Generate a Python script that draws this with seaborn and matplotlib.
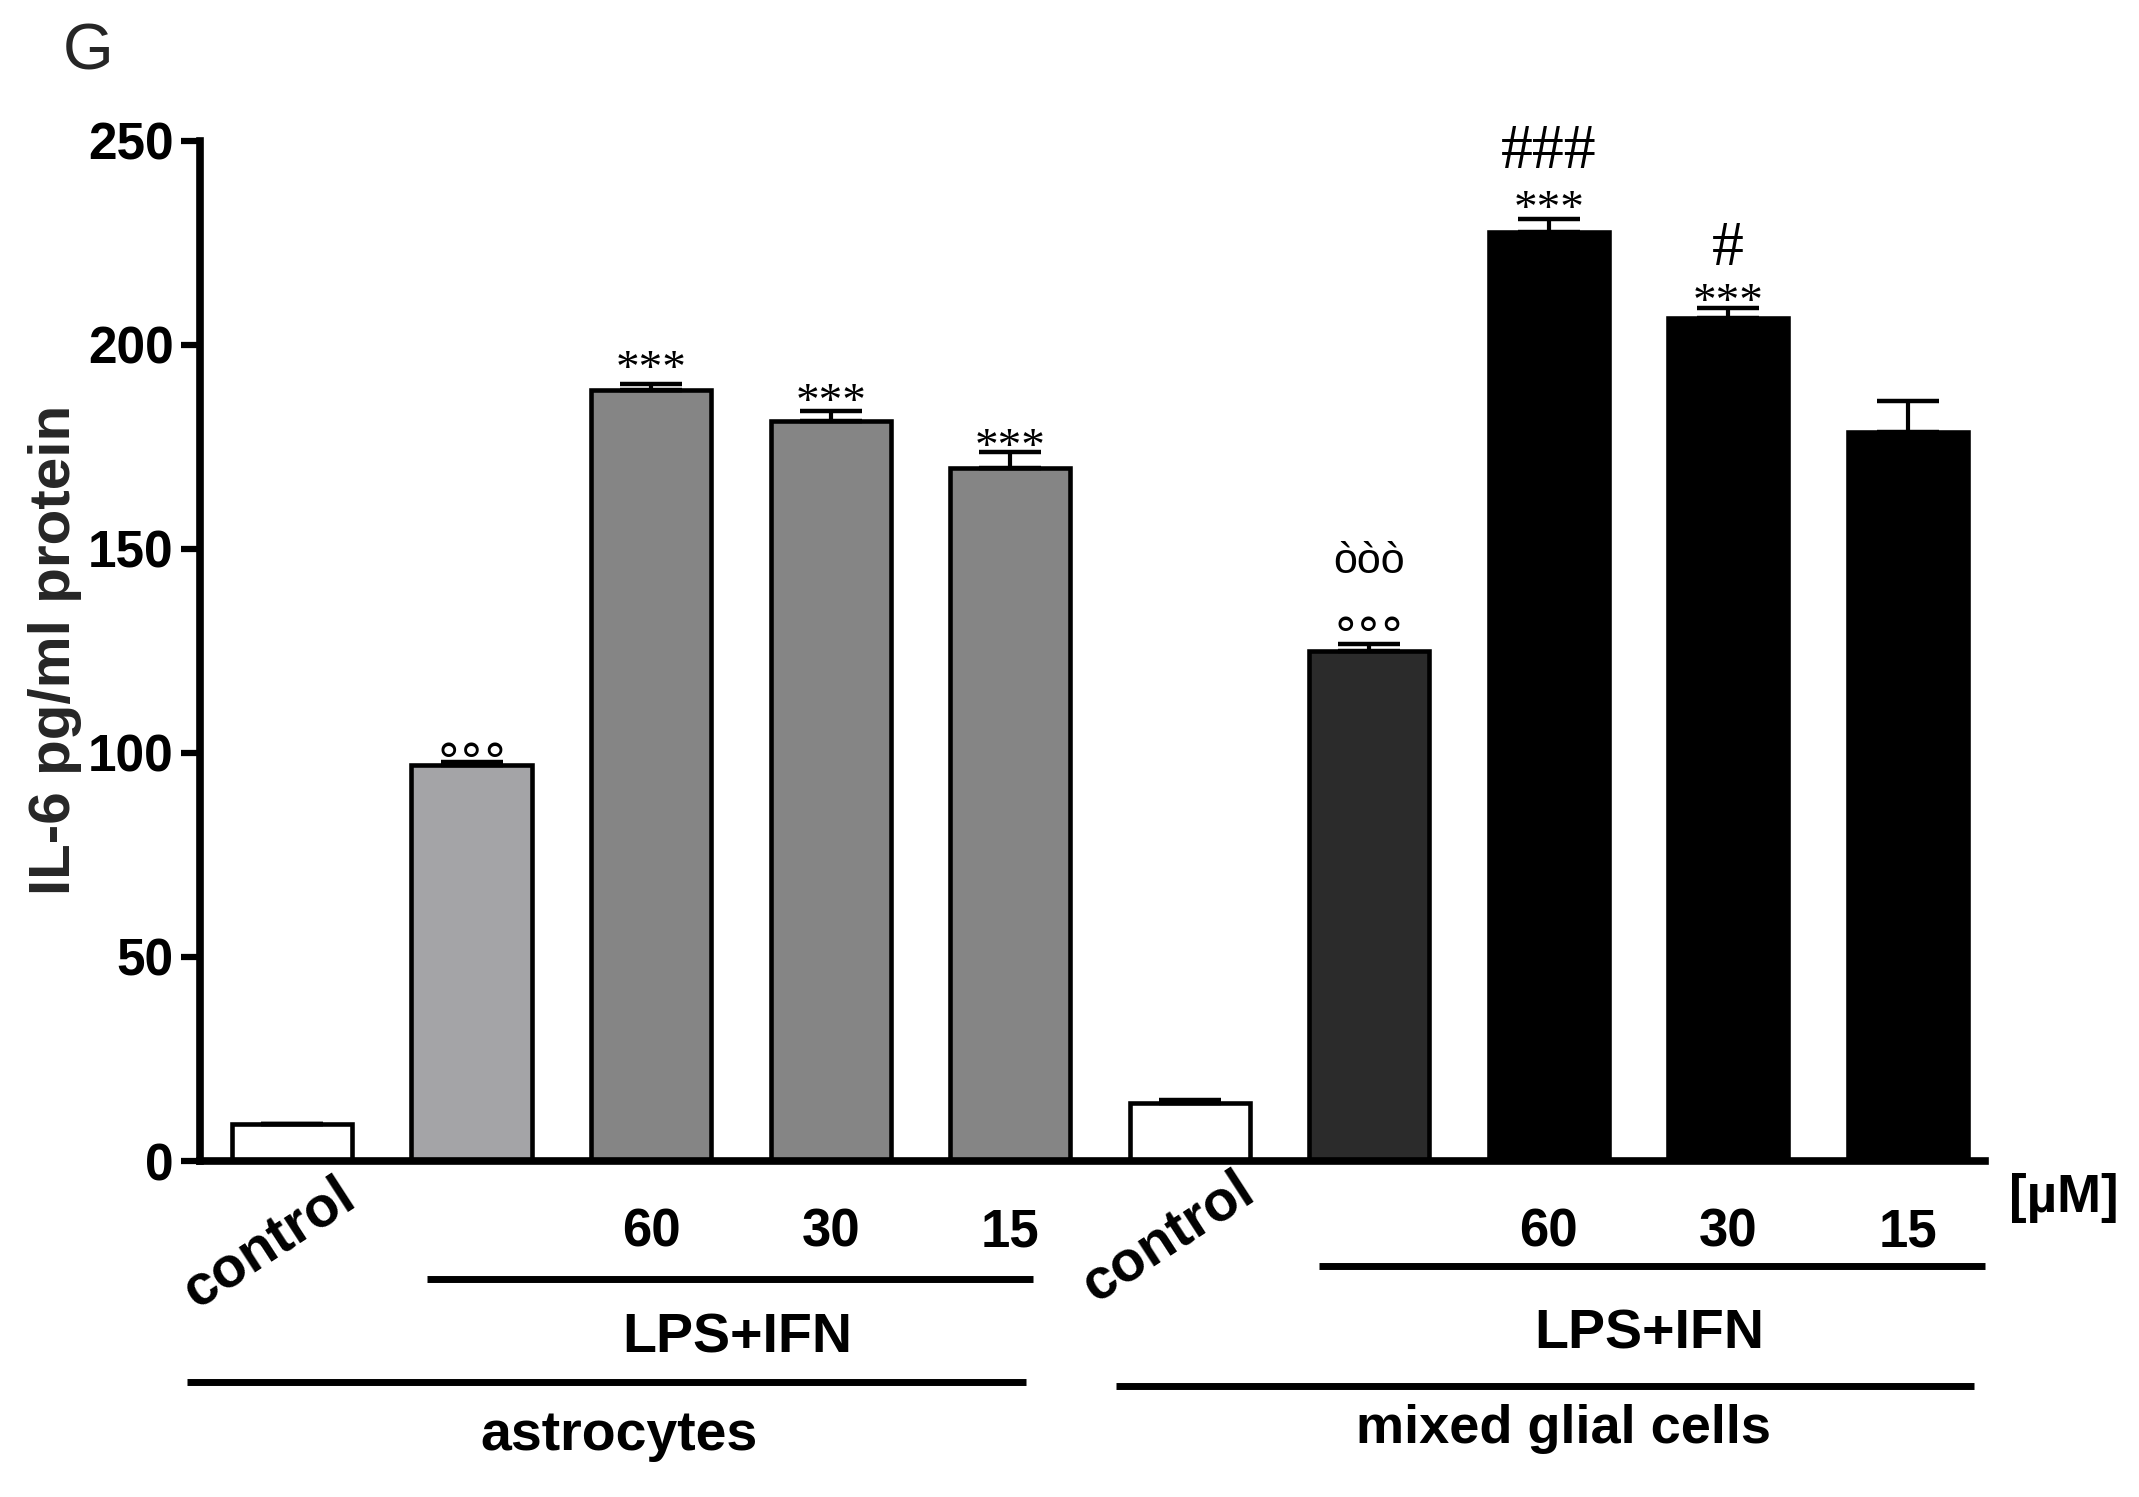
import numpy as np
import pandas as pd
import matplotlib
matplotlib.use("Agg")
import matplotlib.pyplot as plt
import matplotlib.transforms as mtransforms
from matplotlib import font_manager
import seaborn as sns

sns.set_theme(style="white")

# --- FONTS ---
installed = {f.name for f in font_manager.fontManager.ttflist}
NARROW = "Liberation Sans Narrow" if "Liberation Sans Narrow" in installed else "Liberation Sans"
SANS = "Liberation Sans"
SERIF = "Liberation Serif"
plt.rcParams["font.family"] = [SANS, "DejaVu Sans"]

# --- DATA ---
groups = ["astro_ctrl", "astro_lps", "astro_60", "astro_30", "astro_15",
          "mixed_ctrl", "mixed_lps", "mixed_60", "mixed_30", "mixed_15"]
il6 = [9.2, 97.0, 188.9, 181.2, 169.8, 14.2, 125.0, 227.6, 206.5, 178.6]
sem = [0.0, 0.8, 1.4, 2.6, 4.0, 0.7, 1.7, 3.2, 2.5, 7.6]
bar_colors = ["#FFFFFF", "#A3A4A8", "#858585", "#858585", "#858585",
              "#FFFFFF", "#2B2B2B", "#000000", "#000000", "#000000"]
dose_labels = ["", "", "60", "30", "15", "", "", "60", "30", "15"]
y_ticks = [0, 50, 100, 150, 200, 250]

# significance marks above the bars
sig_bar = [1, 2, 3, 4, 6, 6, 7, 7, 8, 8]
sig_text = ["°°°", "***", "***", "***", "°°°", "òòò", "***", "###", "***", "#"]
sig_y = [101.3, 196.7, 188.5, 177.5, 132.0, 147.8, 235.9, 247.7, 213.1, 223.9]

# font, size, vertical nudge (pt) per mark kind
mark_style = {
    "°": ("DejaVu Sans", 34, -12),
    "*": (SERIF, 34, -9),
    "#": (SERIF, 46, -2),
    "ò": (SANS, 31, -3),
}

df = pd.DataFrame({"group": groups, "il6": il6})

# --- PLOT ---
fig = plt.figure(figsize=(21.39, 14.97), dpi=100)
ax = fig.add_axes([0.0935, 0.2244, 0.8345, 0.6817])

sns.barplot(data=df, x="group", y="il6", hue="group",
            palette=dict(zip(groups, bar_colors)), legend=False,
            width=0.67, edgecolor="black", linewidth=3.3,
            errorbar=None, ax=ax)
ax.errorbar(np.arange(len(groups)), il6, yerr=[np.zeros(len(sem)), sem],
            fmt="none", ecolor="black", elinewidth=3, capsize=22, capthick=3.2,
            zorder=3)

ax.set_xlim(-0.513, 9.43)
ax.set_ylim(0, 250)
ax.set_xticks([])
ax.set_yticks(y_ticks)
ax.set_yticklabels([str(t) for t in y_ticks], fontfamily=NARROW,
                   fontweight="bold", fontsize=37)
ax.tick_params(axis="y", length=14, width=4.5, direction="out", pad=5,
               colors="black", left=True)
ax.set_xlabel("")
ax.set_ylabel("")
for side in ["top", "right"]:
    ax.spines[side].set_visible(False)
for side in ["left", "bottom"]:
    ax.spines[side].set_linewidth(5.5)
    ax.spines[side].set_color("black")

# significance marks
for b, txt, y in zip(sig_bar, sig_text, sig_y):
    fam, size, dy = mark_style[txt[0]]
    tr = mtransforms.offset_copy(ax.transData, fig=fig, x=0, y=dy, units="points")
    ax.text(b, y, txt, transform=tr, ha="center", va="center",
            fontsize=size, family=fam, color="black")

# x-axis annotation block (data x, figure y)
blend = mtransforms.blended_transform_factory(ax.transData, fig.transFigure)
lab_kw = dict(transform=blend, family=NARROW, fontweight="bold", color="black",
              ha="center", clip_on=False)

for i, lab in enumerate(dose_labels):
    if lab:
        ax.text(i, 0.1675, lab, va="baseline", fontsize=38, **lab_kw)

ax.text(-0.128, 0.1697, "control", va="center", rotation=33, fontsize=41,
        rotation_mode="anchor", **lab_kw)
ax.text(4.88, 0.1737, "control", va="center", rotation=33, fontsize=41,
        rotation_mode="anchor", **lab_kw)

ax.plot([0.752, 4.128], [0.1456, 0.1456], transform=blend, color="black",
        lw=5, solid_capstyle="butt", clip_on=False)
ax.plot([5.72, 9.43], [0.1543, 0.1543], transform=blend, color="black",
        lw=5, solid_capstyle="butt", clip_on=False)
ax.text(2.48, 0.0962, "LPS+IFN", va="baseline", fontsize=40, **lab_kw)
ax.text(7.56, 0.0995, "LPS+IFN", va="baseline", fontsize=40, **lab_kw)

ax.plot([-0.585, 4.09], [0.0768, 0.0768], transform=blend, color="black",
        lw=5, solid_capstyle="butt", clip_on=False)
ax.plot([4.59, 9.37], [0.0741, 0.0741], transform=blend, color="black",
        lw=5, solid_capstyle="butt", clip_on=False)
ax.text(1.82, 0.0314, "astrocytes", va="baseline", fontsize=40, **lab_kw)
ax.text(7.08, 0.036, "mixed glial cells", va="baseline", fontsize=39, **lab_kw)

ax.text(9.87, 0.1997, "[µM]", va="center", fontsize=38, **lab_kw)

fig.text(0.0257, 0.566, "IL-6 pg/ml protein", rotation=90, ha="center",
         va="center", fontsize=42, fontweight="bold", family=SANS)
fig.text(0.0411, 0.965, "G", ha="center", va="center", fontsize=47, family=SANS)

fig.savefig("out.png", dpi=100, facecolor="white")
